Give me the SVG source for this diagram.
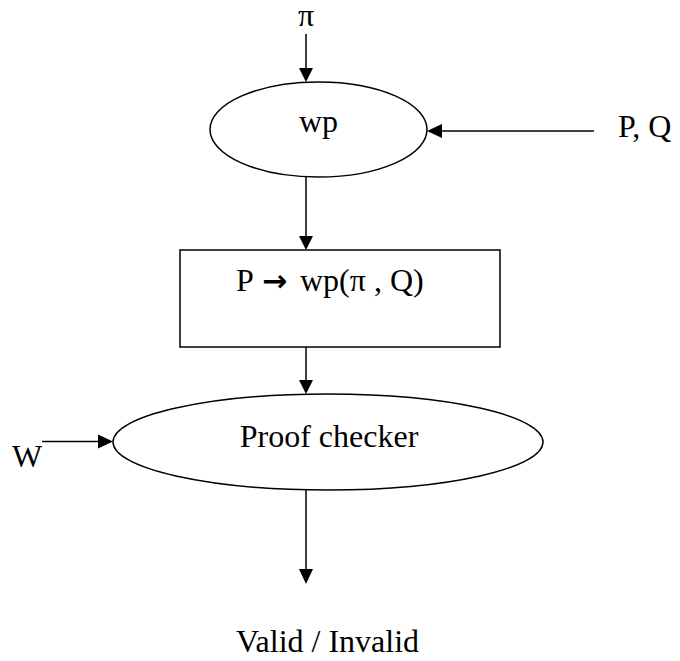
<svg xmlns="http://www.w3.org/2000/svg" width="680" height="661" viewBox="0 0 680 661">
<style>
  .shape { fill: #ffffff; stroke: #000000; stroke-width: 1.5; }
  .line { stroke: #000000; stroke-width: 1.5; fill: none; }
  .head { fill: #000000; stroke: none; }
  text { font-family: "Liberation Serif", "Times New Roman", serif; font-size: 32px; fill: #000000; }
  .arrowglyph { font-family: "DejaVu Sans", sans-serif; font-weight: bold; font-size: 30px; }
</style>
<rect width="680" height="661" fill="#ffffff"/>
<g id="connectors">
  <line class="line" x1="306" y1="34" x2="306" y2="70"/>
  <polygon class="head" points="299,68 313,68 306,82"/>
  <line class="line" x1="594" y1="131" x2="440" y2="131"/>
  <polygon class="head" points="442,124 442,138 427,131"/>
  <line class="line" x1="306" y1="177" x2="306" y2="238"/>
  <polygon class="head" points="299,236 313,236 306,250"/>
  <line class="line" x1="306" y1="347" x2="306" y2="382"/>
  <polygon class="head" points="299,380 313,380 306,394"/>
  <line class="line" x1="42" y1="441.5" x2="100" y2="441.5"/>
  <polygon class="head" points="98,434.5 98,448.5 113,441.5"/>
  <line class="line" x1="306" y1="490" x2="306" y2="570"/>
  <polygon class="head" points="299,569 313,569 306,584"/>
</g>
<g id="pi"><text x="306" y="26" text-anchor="middle">π</text></g>
<g id="wp">
  <ellipse class="shape" cx="318.5" cy="129.5" rx="108.5" ry="47.5"/>
  <text x="318.5" y="132" text-anchor="middle">wp</text>
</g>
<g id="pq"><text x="618" y="137">P, Q</text></g>
<g id="formula">
  <rect class="shape" x="180" y="250" width="320" height="97"/>
  <text x="236" y="291">P<tspan class="arrowglyph" x="262" y="291">→</tspan><tspan x="300" y="291">wp(π , Q)</tspan></text>
</g>
<g id="checker">
  <ellipse class="shape" cx="328" cy="442" rx="215" ry="48"/>
  <text x="329" y="447" text-anchor="middle">Proof checker</text>
</g>
<g id="w"><text x="12" y="467">W</text></g>
<g id="result"><text x="236" y="652">Valid / Invalid</text></g>
</svg>
